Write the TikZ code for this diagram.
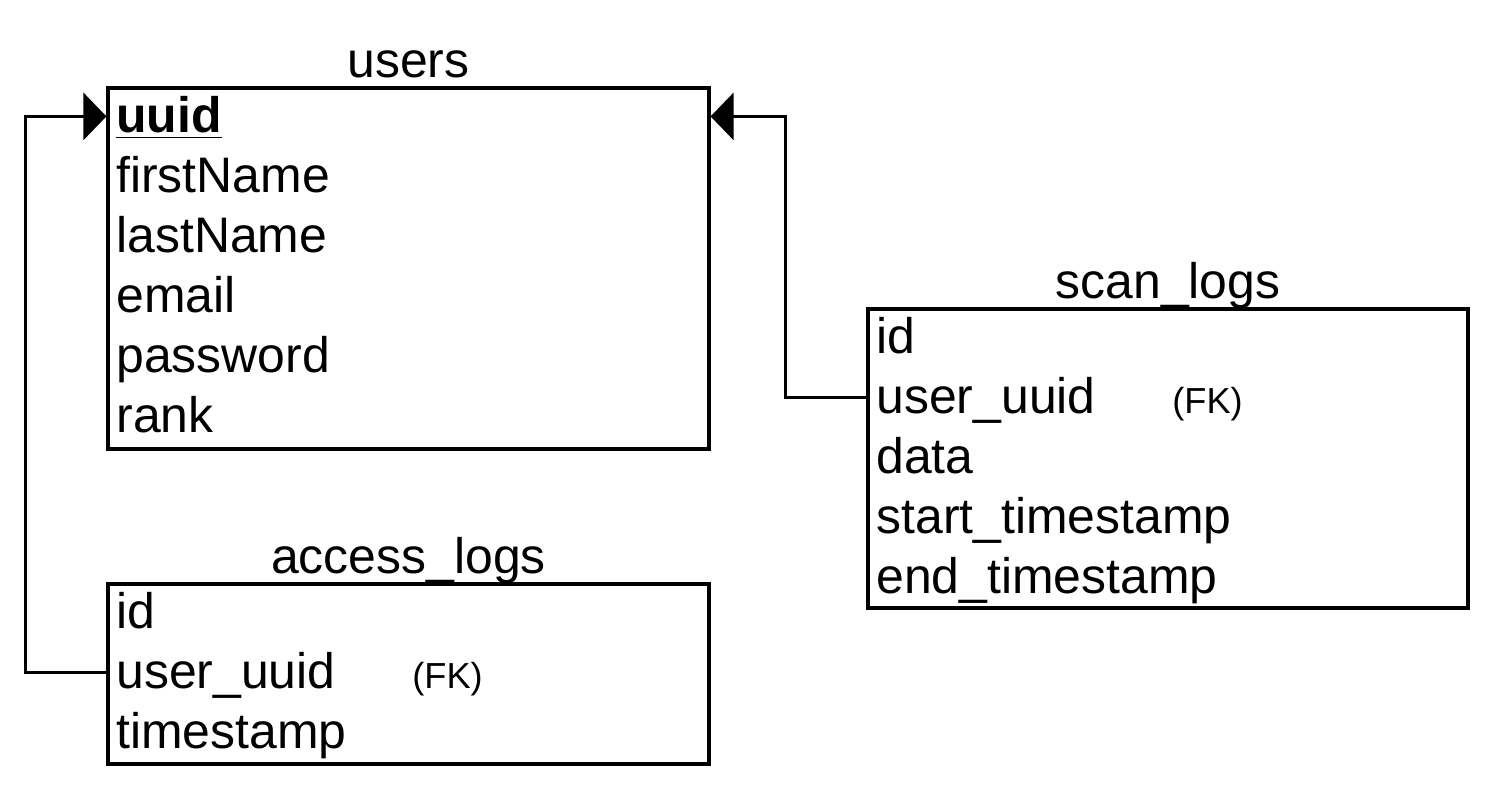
\documentclass[tikz,border=0pt]{standalone}
\usepackage{fontspec}
\setmainfont{Liberation Sans}
\usepackage{tikz}
\usetikzlibrary{positioning}
\usetikzlibrary{arrows.meta}
\tikzset{
  table/.style={draw, line width=0.9pt, minimum width=6.01cm, inner sep=0pt},
  title/.style={anchor=base, inner sep=0pt, font=\fontsize{14.2}{17}\selectfont},
  row/.style={anchor=north west, inner xsep=0.1cm, inner ysep=0pt, outer sep=0pt, minimum height=0.6cm,
    text height=11pt, text depth=2pt, font=\fontsize{14.2}{17}\selectfont},
  fktag/.style={anchor=base west, inner sep=0pt, font=\fontsize{10.3}{12}\selectfont},
  fklink/.style={line width=0.9pt, -{Triangle[length=0.23cm,width=0.47cm]}}
}

\begin{document}
\begin{tikzpicture}
\useasboundingbox (0,0) rectangle (14.96,7.92);
%%% tables %%%

      \node[table, minimum height=3.61cm] (users) at (4.085,5.235) {};
      \node[table, minimum width=6.00cm, minimum height=2.99cm] (scanlogs) at (11.68,3.335) {};
      \node[table, minimum height=1.80cm] (accesslogs) at (4.085,1.18) {};
      %%
      \node[title] at ([yshift=0.09cm]users.north) {users};
      \node[title] at ([yshift=0.09cm]scanlogs.north) {scan\_logs};
      \node[title] at ([yshift=0.09cm]accesslogs.north) {access\_logs};

%%% users %%%
      \node[row] (u-uuid) at (users.north west) {\underline{\textbf{uuid}}};
      \node[row] (u-first) at (u-uuid.south west) {firstName};
      \node[row] (u-last) at (u-first.south west) {lastName};
      \node[row] (u-email) at (u-last.south west) {email};
      \node[row] (u-pass) at (u-email.south west) {password};
      \node[row] (u-rank) at (u-pass.south west) {rank};

%%% scan_logs %%%
      \node[row] (s-id) at (scanlogs.north west) {id};
      \node[row] (s-uuid) at (s-id.south west) {user\_uuid};
      \node[fktag] (s-fk) at ([xshift=0.66cm]s-uuid.base east) {(FK)};
      \node[row] (s-data) at (s-uuid.south west) {data};
      \node[row] (s-start) at (s-data.south west) {start\_timestamp};
      \node[row] (s-end) at (s-start.south west) {end\_timestamp};

%%% access_logs %%%
      \node[row] (a-id) at (accesslogs.north west) {id};
      \node[row] (a-uuid) at (a-id.south west) {user\_uuid};
      \node[fktag] (a-fk) at ([xshift=0.66cm]a-uuid.base east) {(FK)};
      \node[row] (a-time) at (a-uuid.south west) {timestamp};

%%% foreign keys %%%
      \draw[fklink] (accesslogs.west |- a-uuid) -- ++(-0.81,0) |- (users.west |- u-uuid);
      \draw[fklink] (scanlogs.west |- s-uuid) -- ++(-0.81,0) |- (users.east |- u-uuid);

\end{tikzpicture}
\end{document}
